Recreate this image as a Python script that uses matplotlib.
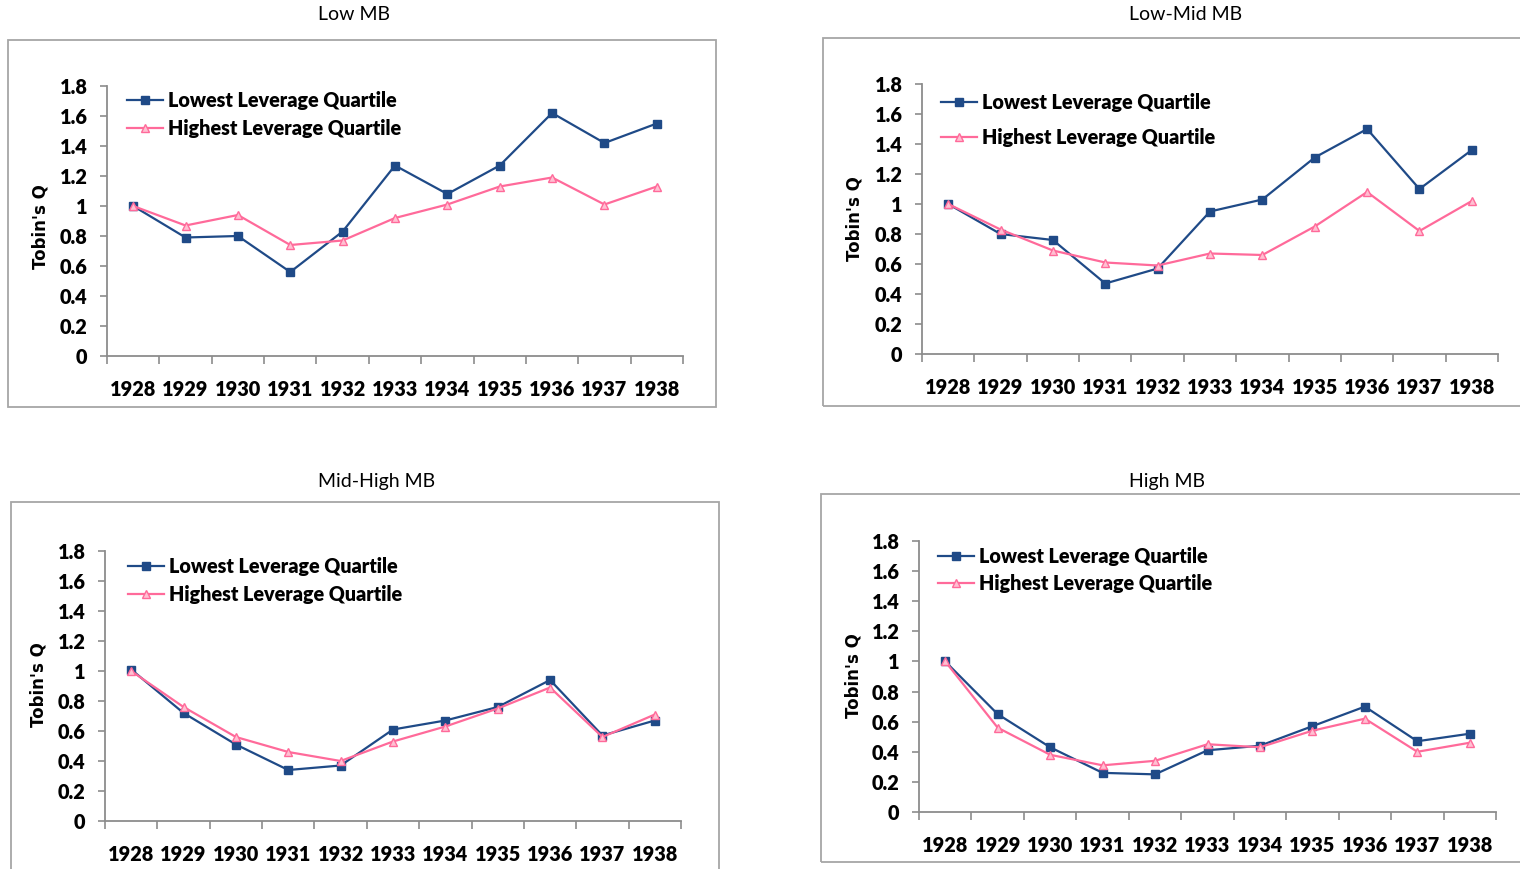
import matplotlib as mpl
mpl.use('Agg')
import matplotlib.pyplot as plt
from matplotlib.patches import Rectangle
import numpy as np

years = ['1928', '1929', '1930', '1931', '1932', '1933', '1934', '1935', '1936', '1937', '1938']
titles = ['Low MB', 'Low-Mid MB', 'Mid-High MB', 'High MB']

low_mb_lowest = [1.00, 0.79, 0.80, 0.56, 0.83, 1.27, 1.08, 1.27, 1.62, 1.42, 1.55]
low_mb_highest = [1.00, 0.87, 0.94, 0.74, 0.77, 0.92, 1.01, 1.13, 1.19, 1.01, 1.13]

lowmid_mb_lowest = [1.00, 0.80, 0.76, 0.47, 0.57, 0.95, 1.03, 1.31, 1.50, 1.10, 1.36]
lowmid_mb_highest = [1.00, 0.83, 0.69, 0.61, 0.59, 0.67, 0.66, 0.85, 1.08, 0.82, 1.02]

midhigh_mb_lowest = [1.01, 0.72, 0.51, 0.34, 0.37, 0.61, 0.67, 0.76, 0.94, 0.57, 0.67]
midhigh_mb_highest = [1.00, 0.76, 0.56, 0.46, 0.40, 0.53, 0.63, 0.75, 0.89, 0.56, 0.71]

high_mb_lowest = [1.00, 0.65, 0.43, 0.26, 0.25, 0.41, 0.44, 0.57, 0.70, 0.47, 0.52]
high_mb_highest = [1.00, 0.56, 0.38, 0.31, 0.34, 0.45, 0.43, 0.54, 0.62, 0.40, 0.46]

lowest = [low_mb_lowest, lowmid_mb_lowest, midhigh_mb_lowest, high_mb_lowest]
highest = [low_mb_highest, lowmid_mb_highest, midhigh_mb_highest, high_mb_highest]

W, H = 1520, 869
BLUE = '#1f4a87'
PINK = '#ff6a9a'
GRAY = '#8c8c8c'
TICKFONT = 'Lato'

# layout in pixels: axes (x0, x1, ytop, ybot), frame (x0, y0, x1, y1), title (x, y),
# ylabel (x, y), legend (x, ymid, labelspacing)
axes_px = [(107, 683, 86, 356), (922, 1498, 84, 354), (105, 681, 551, 821), (919, 1496, 541, 812)]
frames_px = [(8, 40, 716, 407), (823, 38, 1530, 406), (11, 502, 719, 880), (821, 494, 1530, 862)]
titles_px = [(354, 15), (1186, 15), (377, 481), (1167, 481)]
ylabels_px = [(41, 227), (855, 219), (39, 685), (853, 676)]
legends_px = [(127, 114.5, 0.46), (941, 120, 0.8), (128, 580.5, 0.46), (938, 570, 0.42)]


fig = plt.figure(figsize=(W / 100, H / 100), dpi=100)

for i in range(4):
    fx0, fy0, fx1, fy1 = frames_px[i]
    fig.patches.append(Rectangle((fx0 / W, 1 - fy1 / H), (fx1 - fx0) / W, (fy1 - fy0) / H,
                                 transform=fig.transFigure, fill=False, edgecolor='#a6a6a6', lw=1.3))

    x0, x1, yt, yb = axes_px[i]
    ax = fig.add_axes([x0 / W, 1 - yb / H, (x1 - x0) / W, (yb - yt) / H])
    xs = np.arange(len(years))
    ax.plot(xs, lowest[i], color=BLUE, lw=1.6, marker='s', markersize=5.5,
            markerfacecolor=BLUE, markeredgecolor=BLUE, label='Lowest Leverage Quartile')
    ax.plot(xs, highest[i], color=PINK, lw=1.6, marker='^', markersize=6,
            markerfacecolor='#ffc0d2', markeredgecolor=PINK, markeredgewidth=1.0,
            label='Highest Leverage Quartile')

    ax.set_xlim(-0.5, len(years) - 0.5)
    ax.set_ylim(0, 1.8)
    ax.set_yticks(np.arange(0, 1.81, 0.2))
    ax.set_yticklabels(['0', '0.2', '0.4', '0.6', '0.8', '1', '1.2', '1.4', '1.6', '1.8'])
    ax.set_xticks(xs)
    ax.set_xticklabels(years)
    ax.set_xticks(np.arange(-0.5, len(years), 1.0), minor=True)
    ax.tick_params(axis='x', which='major', length=0, pad=17)
    ax.tick_params(axis='x', which='minor', length=5.5, width=1.2, color=GRAY, direction='out')
    ax.tick_params(axis='y', which='major', length=5, width=1.2, color=GRAY, direction='out', pad=9)
    for lab in ax.get_xticklabels() + ax.get_yticklabels():
        lab.set_fontfamily(TICKFONT)
        lab.set_fontweight('heavy')
        lab.set_fontsize(14.3)
    for s in ['top', 'right']:
        ax.spines[s].set_visible(False)
    for s in ['left', 'bottom']:
        ax.spines[s].set_color(GRAY)
        ax.spines[s].set_linewidth(1.3)
    ax.patch.set_alpha(0)

    lx, ly, lsp = legends_px[i]
    ax.legend(loc='center left', bbox_to_anchor=(lx / W, 1 - ly / H), bbox_transform=fig.transFigure,
              frameon=False, borderpad=0, borderaxespad=0, handlelength=1.85, handletextpad=0.25,
              labelspacing=lsp, prop={'family': TICKFONT, 'weight': 'heavy', 'size': 14.2})

    tx, ty = titles_px[i]
    fig.text(tx / W, 1 - ty / H, titles[i], ha='center', va='center', fontsize=14, family='Lato')

    yx, yy = ylabels_px[i]
    fig.text(yx / W, 1 - yy / H, "Tobin's Q", ha='center', va='center', rotation=90,
             fontsize=12, fontweight='bold', family='DejaVu Sans')

fig.savefig('out.png', dpi=100)
